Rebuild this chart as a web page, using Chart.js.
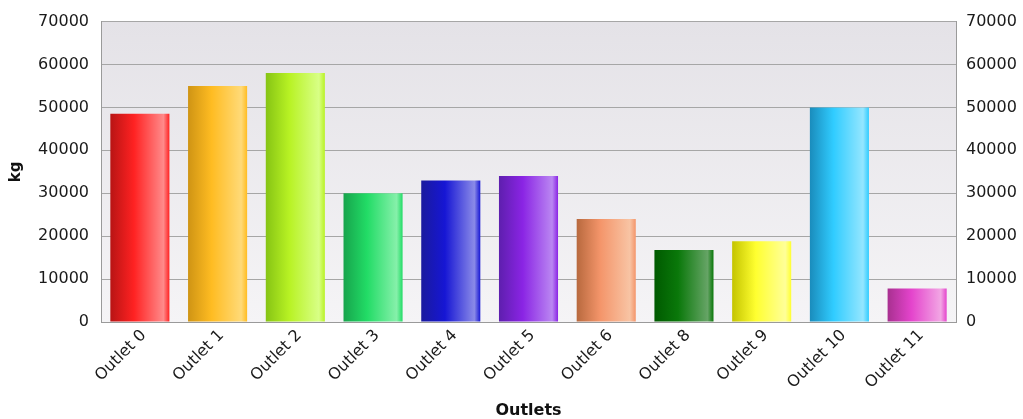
<!DOCTYPE html>
<html><head><meta charset="utf-8">
<script src="https://cdn.jsdelivr.net/npm/chart.js@4"></script>
<style>html,body{margin:0;padding:0;background:#fff}</style>
</head><body>
<canvas id="c" width="1023" height="419"></canvas>
<script>
const categories = ['Outlet 0','Outlet 1','Outlet 2','Outlet 3','Outlet 4','Outlet 5','Outlet 6','Outlet 8','Outlet 9','Outlet 10','Outlet 11'];
const values = [48500, 55000, 58000, 30000, 33000, 34000, 24000, 16800, 18800, 50000, 7800];
const barDark  = ['#b81414','#cf9414','#86c414','#17a44c','#1a1a9e','#5e1fae','#b8693e','#005a00','#c4c400','#1a8cbc','#a83090'];
const barMid   = ['#ff2222','#ffbc22','#b8f224','#22dc66','#1616d4','#8a24e4','#f4956a','#0a780a','#ffff30','#30ccff','#e444cc'];
const barLight = ['#ff8a8a','#ffda78','#d8ff86','#86f0aa','#8a8ae8','#ba86f2','#f8c4a4','#66a466','#ffff98','#94e6ff','#f2a6e4'];
const yMin = 0, yMax = 70000, yStep = 10000;
const xTitle = 'Outlets', yTitle = 'kg';

const plotBg = {
  id: 'plotBg',
  beforeDraw(chart) {
    const {ctx, chartArea: a} = chart;
    const g = ctx.createLinearGradient(0, a.top, 0, a.bottom);
    g.addColorStop(0, '#e4e2e7');
    g.addColorStop(1, '#f5f4f6');
    ctx.save();
    ctx.fillStyle = g;
    ctx.fillRect(a.left, a.top, a.right - a.left, a.bottom - a.top);
    ctx.restore();
  }
};

const BAR_PCT = 0.76;
function barFill(c) {
  const i = c.dataIndex;
  const xs = c.chart.scales && c.chart.scales.x;
  if (!xs || !xs.width) return barMid[i];
  const cx = xs.getPixelForValue(i);
  const w = xs.width / categories.length * BAR_PCT;
  const g = c.chart.ctx.createLinearGradient(cx - w / 2, 0, cx + w / 2, 0);
  g.addColorStop(0, barDark[i]);
  g.addColorStop(0.4, barMid[i]);
  g.addColorStop(0.9, barLight[i]);
  g.addColorStop(1, barMid[i]);
  return g;
}

const tickFont = {family: 'DejaVu Sans', size: 16};
new Chart(document.getElementById('c'), {
  type: 'bar',
  data: {
    labels: categories,
    datasets: [{
      data: values,
      backgroundColor: barFill,
      borderWidth: 0,
      categoryPercentage: 1,
      barPercentage: BAR_PCT,
      yAxisID: 'y'
    }]
  },
  plugins: [plotBg],
  options: {
    responsive: false,
    animation: false,
    layout: {padding: {left: 0, right: 0, top: 21, bottom: 0}},
    plugins: {legend: {display: false}, tooltip: {enabled: false}},
    scales: {
      x: {
        grid: {display: false, drawTicks: false},
        border: {display: true, color: '#9a9a9a', width: 1},
        ticks: {autoSkip: false, minRotation: 45, maxRotation: 45, padding: 4, labelOffset: 4, color: '#1a1a1a', font: {family: 'DejaVu Sans', size: 16}},
        title: {display: true, text: xTitle, color: '#111', font: {family: 'DejaVu Sans', size: 16, weight: 'bold', lineHeight: 1}, padding: {top: 0, bottom: 0}},
        afterFit(s) { s.height = 97; }
      },
      y: {
        position: 'left',
        min: yMin, max: yMax,
        grid: {color: '#a6a6a6', lineWidth: 1, drawTicks: false},
        border: {display: true, color: '#9a9a9a', width: 1},
        ticks: {stepSize: yStep, padding: 12, color: '#1a1a1a', font: tickFont, callback: v => String(v)},
        title: {display: true, text: yTitle, color: '#111', font: {family: 'DejaVu Sans', size: 15, weight: 'bold'}, padding: {top: 7, bottom: 0}},
        afterFit(s) { s.width = 101; }
      },
      y2: {
        position: 'right',
        min: yMin, max: yMax,
        grid: {display: false, drawTicks: false},
        border: {display: true, color: '#9a9a9a', width: 1},
        ticks: {stepSize: yStep, padding: 10, color: '#1a1a1a', font: tickFont, callback: v => String(v)},
        afterFit(s) { s.width = 67; }
      }
    }
  }
});
</script>
</body></html>
